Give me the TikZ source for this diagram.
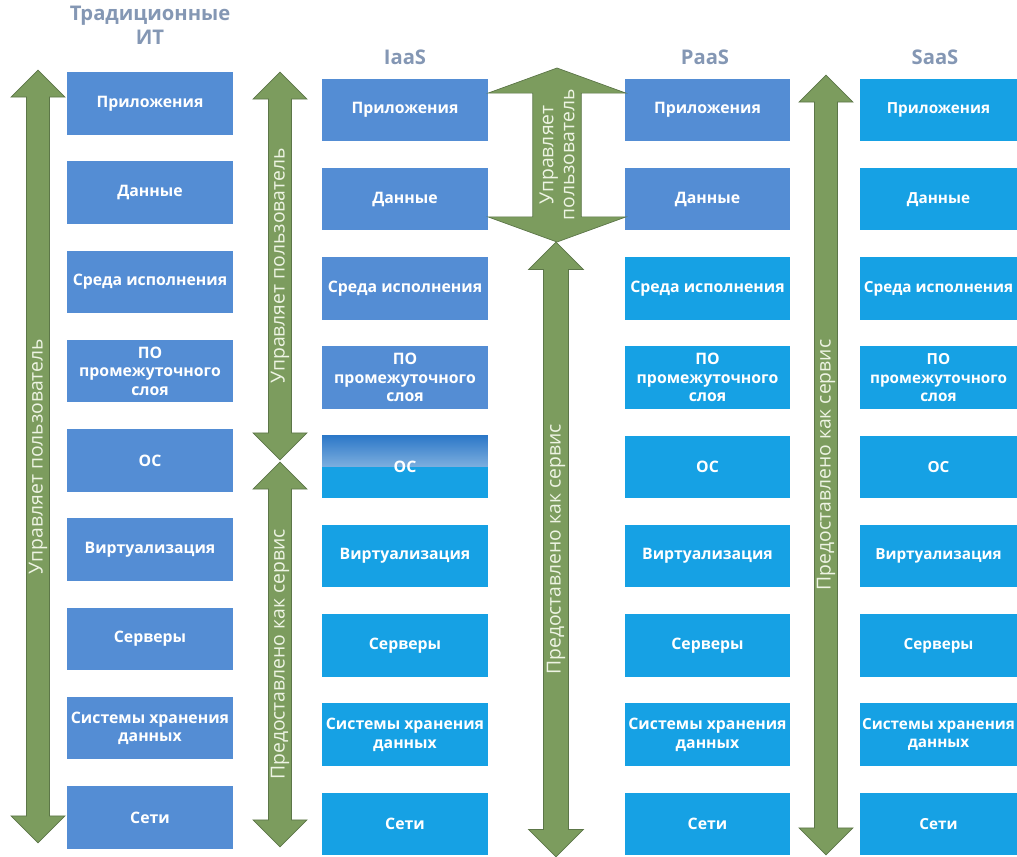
\documentclass[tikz,border=0pt]{standalone}
\usepackage{fontspec}
\setmainfont{Open Sans}
\usetikzlibrary{positioning,shapes.arrows}

\definecolor{ownblue}{RGB}{84,141,212}
\definecolor{cloudblue}{RGB}{22,161,228}
\definecolor{fadetop}{RGB}{45,120,200}
\definecolor{fadebottom}{RGB}{205,230,246}
\definecolor{headgray}{RGB}{132,151,180}
\definecolor{bandgreen}{RGB}{124,156,94}
\definecolor{bandline}{RGB}{92,118,72}
\definecolor{bandtext}{RGB}{238,244,228}

\begin{document}
\begin{tikzpicture}[x=0.02cm,y=-0.02cm,node distance=1.785cm,
    layer/.style={rectangle,minimum width=3.32cm,minimum height=1.25cm,inner sep=1pt,align=center,text=white,font=\bfseries\fontsize{9}{10.5}\selectfont},
    own layer/.style={layer,fill=ownblue},
    cloud layer/.style={layer,fill=cloudblue},
    edge layer/.style={cloud layer,minimum width=3.14cm,inner sep=0pt,font=\bfseries\fontsize{8.7}{10.5}\selectfont},
    half layer/.style={layer,fill=cloudblue,path picture={\shade[top color=fadetop,bottom color=fadebottom] (path picture bounding box.north west) rectangle (path picture bounding box.east);}},
    head/.style={text=headgray,align=center,font=\bfseries\fontsize{11.5}{13.5}\selectfont},
    band/.style={double arrow,rotate=90,fill=bandgreen,draw=bandline,thin,inner sep=0pt,text=bandtext,align=center,font=\fontsize{11}{12}\selectfont,minimum width=1.08cm,double arrow head extend=0.26cm}]
    \useasboundingbox (0,0) rectangle (1017,856);

    % column titles
    \node[head] (tradhead) at (150,25) {Традиционные\\ИТ};
    \node[head] (iaashead) at (405,57) {IaaS};
    \node[head] (paashead) at (705,57) {PaaS};
    \node[head] (saashead) at (935,57) {SaaS};

    % traditional IT
    \node[own layer] (trad1) at (150,103.5) {Приложения};
    \node[own layer] (trad2) [below of=trad1] {Данные};
    \node[own layer] (trad3) [below of=trad2] {Среда исполнения};
    \node[own layer] (trad4) [below of=trad3] {ПО\\промежуточного\\слоя};
    \node[own layer] (trad5) [below of=trad4] {ОС};
    \node[own layer] (trad6) [below of=trad5] {Виртуализация};
    \node[own layer] (trad7) [below of=trad6] {Серверы};
    \node[own layer] (trad8) [below of=trad7] {Системы хранения\\данных};
    \node[own layer] (trad9) [below of=trad8] {Сети};

    % IaaS
    \node[own layer] (iaas1) at (405,110) {Приложения};
    \node[own layer] (iaas2) [below of=iaas1] {Данные};
    \node[own layer] (iaas3) [below of=iaas2] {Среда исполнения};
    \node[own layer] (iaas4) [below of=iaas3] {ПО\\промежуточного\\слоя};
    \node[half layer] (iaas5) [below of=iaas4] {ОС};
    \node[cloud layer] (iaas6) [below of=iaas5] {Виртуализация};
    \node[cloud layer] (iaas7) [below of=iaas6] {Серверы};
    \node[cloud layer] (iaas8) [below of=iaas7] {Системы хранения\\данных};
    \node[cloud layer] (iaas9) [below of=iaas8] {Сети};

    % PaaS
    \node[own layer] (paas1) at (707.5,110) {Приложения};
    \node[own layer] (paas2) [below of=paas1] {Данные};
    \node[cloud layer] (paas3) [below of=paas2] {Среда исполнения};
    \node[cloud layer] (paas4) [below of=paas3] {ПО\\промежуточного\\слоя};
    \node[cloud layer] (paas5) [below of=paas4] {ОС};
    \node[cloud layer] (paas6) [below of=paas5] {Виртуализация};
    \node[cloud layer] (paas7) [below of=paas6] {Серверы};
    \node[cloud layer] (paas8) [below of=paas7] {Системы хранения\\данных};
    \node[cloud layer] (paas9) [below of=paas8] {Сети};

    % SaaS (runs into the right edge)
    \node[edge layer] (saas1) at (938.5,110) {Приложения};
    \node[edge layer] (saas2) [below of=saas1] {Данные};
    \node[edge layer] (saas3) [below of=saas2] {Среда исполнения};
    \node[edge layer] (saas4) [below of=saas3] {ПО\\промежуточного\\слоя};
    \node[edge layer] (saas5) [below of=saas4] {ОС};
    \node[edge layer] (saas6) [below of=saas5] {Виртуализация};
    \node[edge layer] (saas7) [below of=saas6] {Серверы};
    \node[edge layer] (saas8) [below of=saas7] {Системы хранения\\данных};
    \node[edge layer] (saas9) [below of=saas8] {Сети};

    % who manages what
    \node[band,minimum height=15.46cm] (usertrad) at (38,456.5) {Управляет пользователь};
    \node[band,minimum height=7.76cm] (useriaas) at (280,266) {Управляет пользователь};
    \node[band,minimum height=7.7cm] (serviaas) at (280,654.5) {Предоставлено как сервис};
    \node[band,minimum height=3.48cm,minimum width=2.76cm,double arrow head extend=0.66cm,double arrow tip angle=140] (userpaas) at (557,155) {Управляет\\пользователь};
    \node[band,minimum height=12.3cm,minimum width=1.1cm,double arrow head extend=0.23cm] (servpaas) at (556,549.5) {Предоставлено как сервис};
    \node[band,minimum height=15.6cm] (servsaas) at (826,465) {Предоставлено как сервис};
\end{tikzpicture}
\end{document}
